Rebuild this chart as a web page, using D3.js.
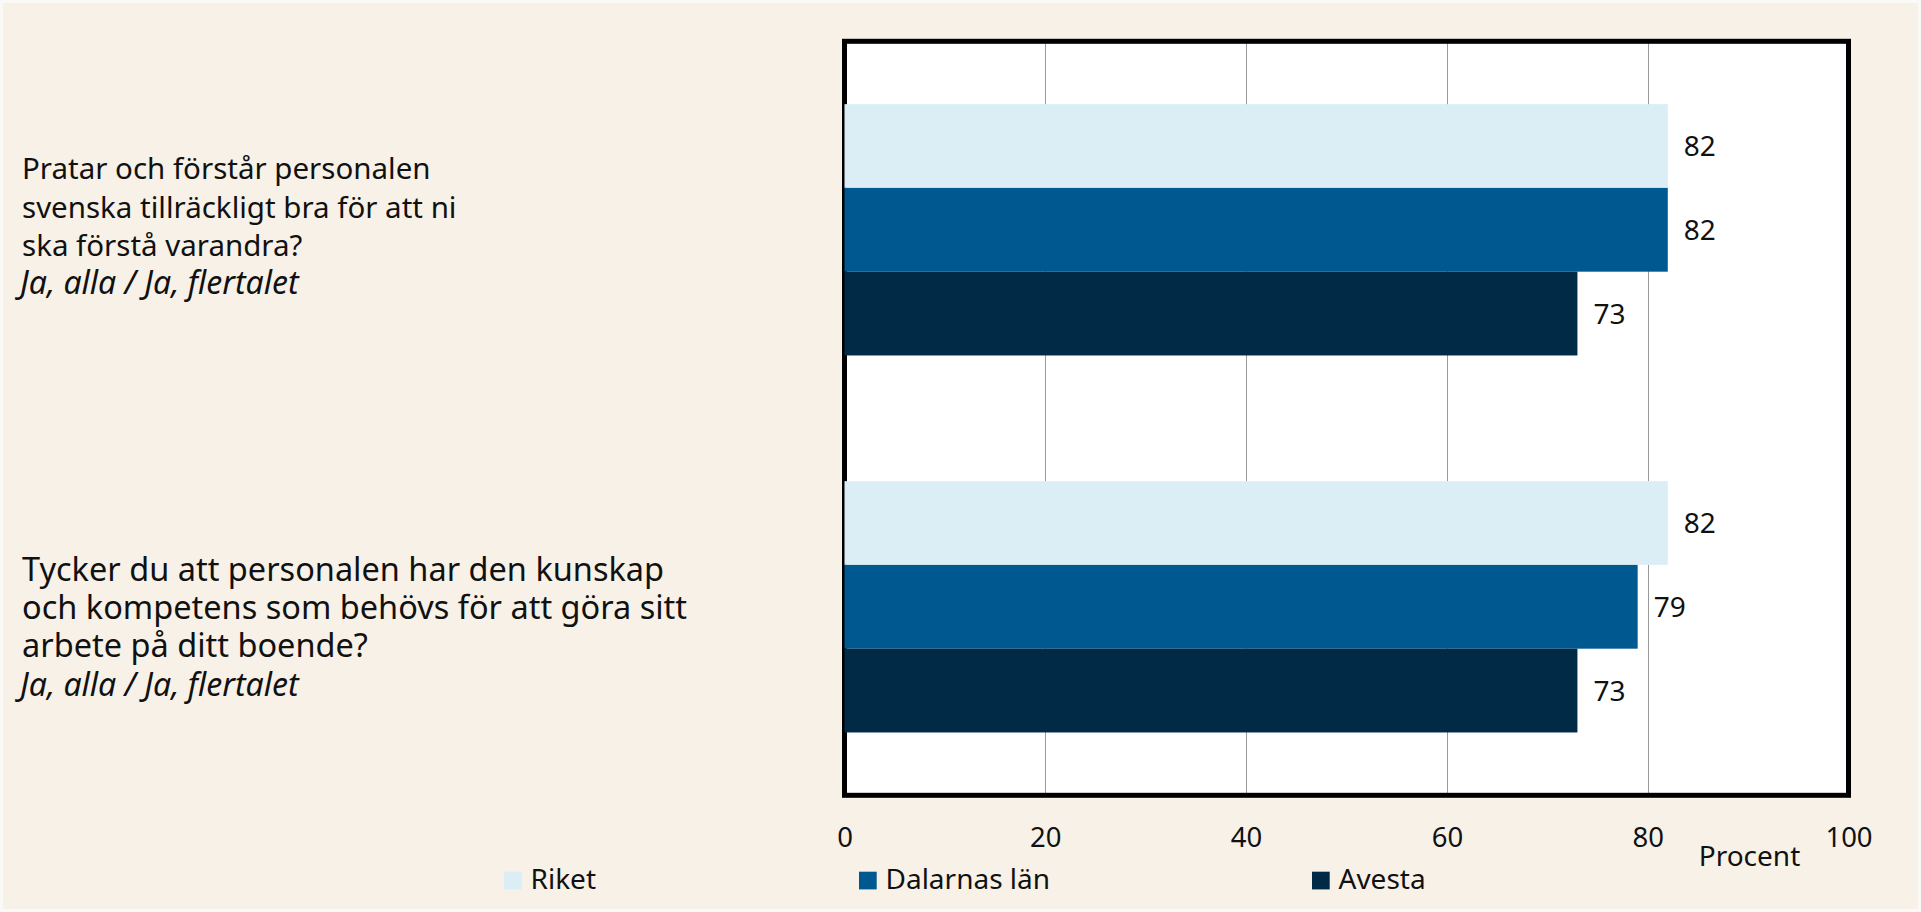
<!DOCTYPE html>
<html>
<head>
<meta charset="utf-8">
<script src="https://cdn.jsdelivr.net/npm/d3@7"></script>
<style>
  body { margin: 0; background: #fbf9f5; }
  svg { display: block; font-family: 'Noto Sans', sans-serif; }
</style>
</head>
<body>
<svg id="chart"></svg>
<script>
// questions (left labels), one line per entry
const questions = [
  ['Pratar och förstår personalen', 'svenska tillräckligt bra för att ni', 'ska förstå varandra?'],
  ['Tycker du att personalen har den kunskap', 'och kompetens som behövs för att göra sitt', 'arbete på ditt boende?'],
]
const answerNote = 'Ja, alla / Ja, flertalet'
const seriesNames = ['Riket', 'Dalarnas län', 'Avesta']
const riket = [82, 82]
const dalarna = [82, 79]
const avesta = [73, 73]
const xTicks = [0, 20, 40, 60, 80, 100]
const xLabel = 'Procent'

const colors = ['#dbeef5', '#005891', '#002a45']

const canvasSize = { width: 1921, height: 912 }
const plot = { left: 844.5, right: 1848.5, top: 41.3, bottom: 795.3 }

const svg = d3.select('#chart')
  .attr('width', canvasSize.width)
  .attr('height', canvasSize.height)

// page background with faint lighter edge
svg.append('rect')
  .attr('x', 3).attr('y', 3)
  .attr('width', canvasSize.width - 6)
  .attr('height', canvasSize.height - 6)
  .attr('fill', '#f7f1e8')

const x = d3.scaleLinear().domain([0, 100]).range([plot.left, plot.right])

const y = d3.scaleBand()
  .domain(questions.map((d, i) => i))
  .range([plot.top, plot.bottom])
  .paddingInner(1 / 3)
  .paddingOuter(1 / 6)

const ySub = d3.scaleBand()
  .domain(seriesNames)
  .range([0, y.bandwidth()])

const rows = questions.map((q, i) => ({
  i,
  values: [riket[i], dalarna[i], avesta[i]].map((v, k) => ({ name: seriesNames[k], value: v })),
}))

// plot area
svg.append('rect')
  .attr('x', plot.left).attr('y', plot.top)
  .attr('width', plot.right - plot.left)
  .attr('height', plot.bottom - plot.top)
  .attr('fill', '#fff')

// grid
svg.append('g')
  .selectAll('line')
  .data(xTicks.filter((t) => t > 0 && t < 100))
  .join('line')
  .attr('x1', (d) => Math.round(x(d)) + 0.5)
  .attr('x2', (d) => Math.round(x(d)) + 0.5)
  .attr('y1', plot.top)
  .attr('y2', plot.bottom)
  .attr('stroke', '#999')
  .attr('stroke-width', 1)

// frame
svg.append('rect')
  .attr('x', plot.left).attr('y', plot.top)
  .attr('width', plot.right - plot.left)
  .attr('height', plot.bottom - plot.top)
  .attr('fill', 'none')
  .attr('stroke', '#000')
  .attr('stroke-width', 5)

// bars
const groups = svg.append('g')
  .selectAll('g')
  .data(rows)
  .join('g')
  .attr('transform', (d) => `translate(0, ${y(d.i)})`)

groups.selectAll('rect')
  .data((d) => d.values)
  .join('rect')
  .attr('x', x(0))
  .attr('y', (d) => ySub(d.name))
  .attr('width', (d) => x(d.value) - x(0))
  .attr('height', ySub.bandwidth())
  .attr('fill', (d, k) => colors[k])

groups.selectAll('text')
  .data((d) => d.values)
  .join('text')
  .attr('x', (d) => x(d.value) + 16)
  .attr('y', (d) => ySub(d.name) + ySub.bandwidth() / 2 + 10)
  .attr('font-size', 28)
  .attr('fill', '#111')
  .text((d) => d.value)

// x axis labels
const xAxis = svg.append('g')
  .attr('transform', `translate(0, ${plot.bottom})`)
  .call(d3.axisBottom(x).tickValues(xTicks).tickSize(0).tickPadding(0))
xAxis.select('.domain').remove()
xAxis.selectAll('text')
  .attr('dy', null)
  .attr('y', 52)
  .attr('font-size', 27.5)
  .attr('font-family', "'Noto Sans', sans-serif")
  .attr('fill', '#111')

svg.append('text')
  .attr('x', 1749.5)
  .attr('y', 865.7)
  .attr('text-anchor', 'middle')
  .attr('font-size', 28)
  .attr('fill', '#111')
  .text(xLabel)

// question labels
const firstLineOffset = [-50.6, -26]
const questionSize = [29.5, 32.5]
const lineH = 38.3
questions.forEach((lines, i) => {
  const y0 = y(i) + y.bandwidth() / 2 + firstLineOffset[i]
  const t = svg.append('text')
    .attr('x', 22)
    .attr('y', y0)
    .attr('fill', '#111')
  lines.concat([answerNote]).forEach((line, j) => {
    const note = j === lines.length
    t.append('tspan')
      .attr('x', note ? 20 : 22)
      .attr('y', y0 + j * lineH)
      .attr('font-size', note ? 32 : questionSize[i])
      .attr('font-style', note ? 'italic' : null)
      .text(line)
  })
})

// legend
const legendX = [504, 859, 1312]
const legend = svg.append('g')
  .selectAll('g')
  .data(seriesNames)
  .join('g')
  .attr('transform', (d, k) => `translate(${legendX[k]}, 871.7)`)
legend.append('rect')
  .attr('width', 17.7).attr('height', 17.7)
  .attr('fill', (d, k) => colors[k])
legend.append('text')
  .attr('x', 26.5)
  .attr('y', 17.5)
  .attr('font-size', 28)
  .attr('fill', '#111')
  .text((d) => d)
</script>
</body>
</html>
